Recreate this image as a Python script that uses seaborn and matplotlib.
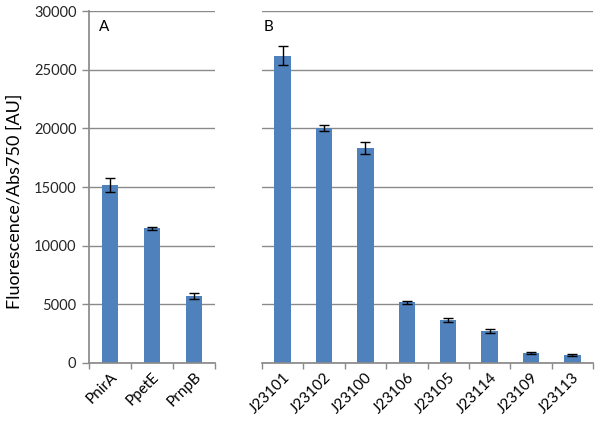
import matplotlib
matplotlib.use("Agg")
import matplotlib.pyplot as plt
import seaborn as sns
import pandas as pd
import numpy as np
from matplotlib.ticker import MultipleLocator, FixedLocator

sns.set_theme(style="white")
plt.rcParams['font.family'] = ['Lato', 'DejaVu Sans']

cats_a = ["PnirA", "PpetE", "PrnpB"]
vals_a = [15170, 11480, 5740]
errs_a = [570, 150, 260]

cats_b = ["J23101", "J23102", "J23100", "J23106", "J23105", "J23114", "J23109", "J23113"]
vals_b = [26190, 20000, 18350, 5170, 3665, 2750, 825, 680]
errs_b = [820, 260, 500, 140, 130, 190, 80, 70]

bar_color = "#4F81BD"
grid_color = "#8a8a8a"

fig = plt.figure(figsize=(6, 4.22), dpi=100)
ax_a = fig.add_axes([89/600, 1-363/422, (215-89)/600, 352/422])
ax_b = fig.add_axes([262/600, 1-363/422, (593-262)/600, 352/422])

def draw(ax, cats, vals, errs, label, show_y, label_x):
    df = pd.DataFrame({"cat": cats, "val": vals, "err": errs})
    sns.barplot(data=df, x="cat", y="val", color=bar_color, width=0.4,
                saturation=1, ax=ax, errorbar=None, edgecolor="none")
    ax.errorbar(np.arange(len(cats)), df["val"], yerr=df["err"], fmt="none",
                ecolor="black", elinewidth=1, capsize=3.5, capthick=1)
    ax.set_ylim(0, 30000)
    ax.set_xlim(-0.5, len(cats) - 0.5)
    ax.yaxis.set_major_locator(MultipleLocator(5000))
    ax.grid(axis="y", color=grid_color, linewidth=1)
    ax.set_axisbelow(True)
    for s in ["top", "right"]:
        ax.spines[s].set_visible(False)
    ax.spines["bottom"].set_color(grid_color)
    ax.spines["left"].set_color(grid_color)
    ax.spines["left"].set_visible(show_y)
    ax.set_xlabel("")
    ax.set_ylabel("")
    ax.xaxis.set_minor_locator(FixedLocator(np.arange(len(cats) + 1) - 0.5))
    ax.tick_params(axis="x", which="major", length=0, labelsize=11, pad=5, colors="black")
    ax.tick_params(axis="x", which="minor", length=4, color=grid_color, width=1, bottom=True)
    ax.set_xticks(np.arange(len(cats)))
    ax.set_xticklabels(cats, rotation=45, ha="right", rotation_mode="anchor")
    if show_y:
        ax.tick_params(axis="y", which="major", length=5, color=grid_color, width=1, left=True,
                       labelsize=10.5, pad=4)
    else:
        ax.tick_params(axis="y", left=False, labelleft=False)
    ax.text(label_x, 0.955, label, transform=ax.transAxes,
            fontsize=11, ha="left", va="center", color="black")

draw(ax_a, cats_a, vals_a, errs_a, "A", True, 0.08)
draw(ax_b, cats_b, vals_b, errs_b, "B", False, 0.006)

fig.text(15/600, 1-201/422, "Fluorescence/Abs750 [AU]", rotation=90,
         fontsize=13, ha="center", va="center", color="black")

fig.savefig("out.png", dpi=100)
